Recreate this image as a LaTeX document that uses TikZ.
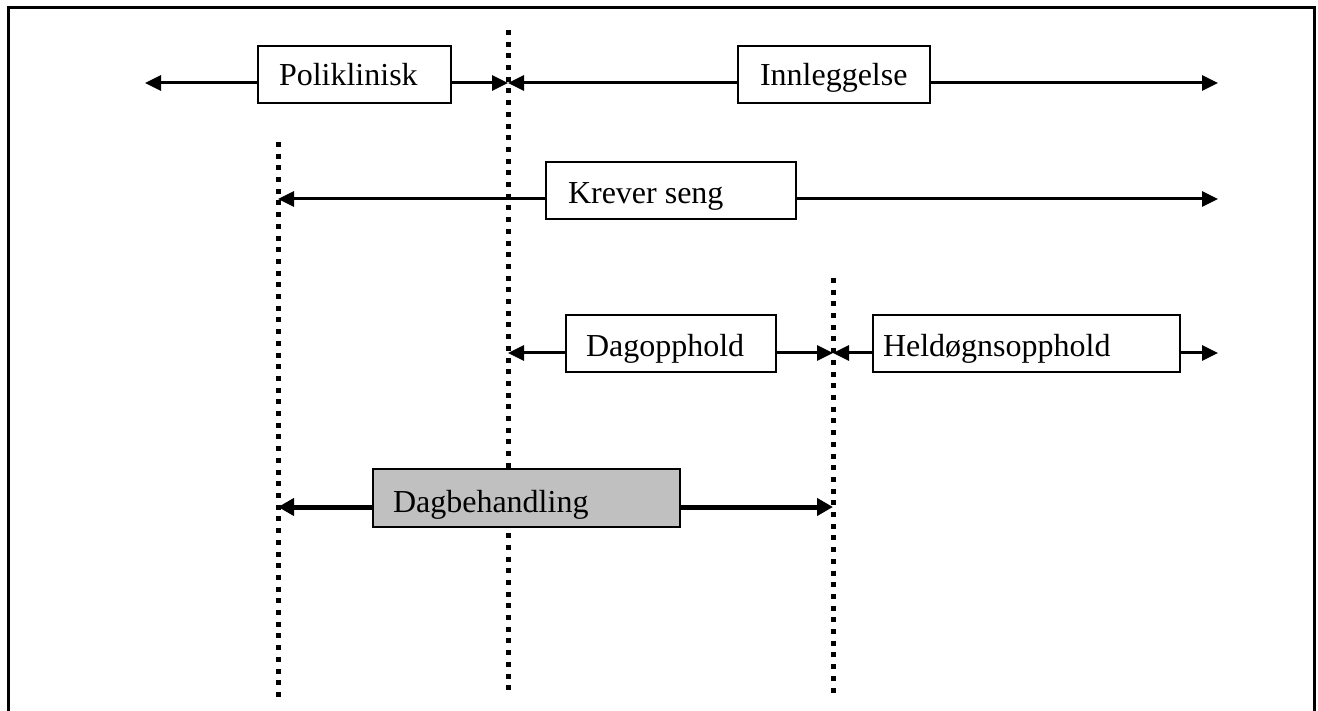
\documentclass[tikz,border=0pt]{standalone}
\usepackage{fontspec}
\setmainfont{Liberation Serif}
\usetikzlibrary{arrows.meta}
\begin{document}
\begin{tikzpicture}[x=0.5pt,y=-0.5pt,
  box/.style={draw, line width=1pt, fill=white, inner sep=0pt,
    minimum height=28.5pt, text height=13.5pt, text depth=0.5pt,
    font=\fontsize{16}{19}\selectfont},
  toprow/.style={text height=11.5pt, text depth=0.5pt},
  conn/.style={line width=1.5pt, -{Triangle[length=8pt,width=7.5pt]}},
  thickconn/.style={line width=2.5pt, -{Triangle[length=8pt,width=8.5pt]}},
  divider/.style={line width=2.5pt, line cap=butt, dash pattern=on 2.5pt off 3.35pt},
  frame/.style={line width=1.5pt}]
\useasboundingbox (0,0) rectangle (1318,711);

% open frame
\draw[frame] (8,711) -- (8,8) -- (1314,8) -- (1314,711);

% dotted dividers
\coordinate (v1t) at (508,30);  \coordinate (v1b) at (508,695);
\coordinate (v2t) at (278,142); \coordinate (v2b) at (278,697);
\coordinate (v3t) at (833,278); \coordinate (v3b) at (833,697);
\draw[divider] (v1t) -- (v1b);
\draw[divider] (v2t) -- (v2b);
\draw[divider] (v3t) -- (v3b);

% labels
\node[box, toprow, minimum width=96.5pt] (poli) at (354.5,74.5)
  {\makebox[96.5pt][l]{\hspace{10.5pt}Poliklinisk}};
\node[box, toprow, minimum width=96pt] (innl) at (834,74.5)
  {\makebox[96pt][l]{\hspace{11pt}Innleggelse}};
\node[box, minimum width=125pt] (krev) at (671,190.5)
  {\makebox[125pt][l]{\hspace{11pt}Krever seng}};
\node[box, minimum width=105pt] (dago) at (671,344)
  {\makebox[105pt][l]{\hspace{10pt}Dagopphold}};
\node[box, minimum width=153.5pt] (held) at (1026.5,344)
  {\makebox[153.5pt][l]{\hspace{5pt}Heldøgnsopphold}};
\node[box, fill={rgb,255:red,192;green,192;blue,192}, minimum width=153.5pt,
  minimum height=29pt, text height=14.5pt] (dagb) at (526.5,498)
  {\makebox[153.5pt][l]{\hspace{10pt}Dagbehandling}};

% arrow ends
\coordinate (a1l) at (145,83);  \coordinate (a1m) at (508,83);  \coordinate (a1r) at (1218,83);
\coordinate (a2l) at (278,199); \coordinate (a2r) at (1218,199);
\coordinate (a3l) at (508,353); \coordinate (a3m) at (833,353); \coordinate (a3r) at (1218,353);
\coordinate (a4l) at (278,507); \coordinate (a4r) at (833,507);

% row 1
\draw[conn] (poli.west |- a1l) -- (a1l);
\draw[conn] (poli.east |- a1m) -- (a1m);
\draw[conn] (innl.west |- a1m) -- (a1m);
\draw[conn] (innl.east |- a1r) -- (a1r);
% row 2
\draw[conn] (krev.west |- a2l) -- (a2l);
\draw[conn] (krev.east |- a2r) -- (a2r);
% row 3
\draw[conn] (dago.west |- a3l) -- (a3l);
\draw[conn] (dago.east |- a3m) -- (a3m);
\draw[conn] (held.west |- a3m) -- (a3m);
\draw[conn] (held.east |- a3r) -- (a3r);
% row 4
\draw[thickconn] (dagb.west |- a4l) -- (a4l);
\draw[thickconn] (dagb.east |- a4r) -- (a4r);
\end{tikzpicture}
\end{document}
